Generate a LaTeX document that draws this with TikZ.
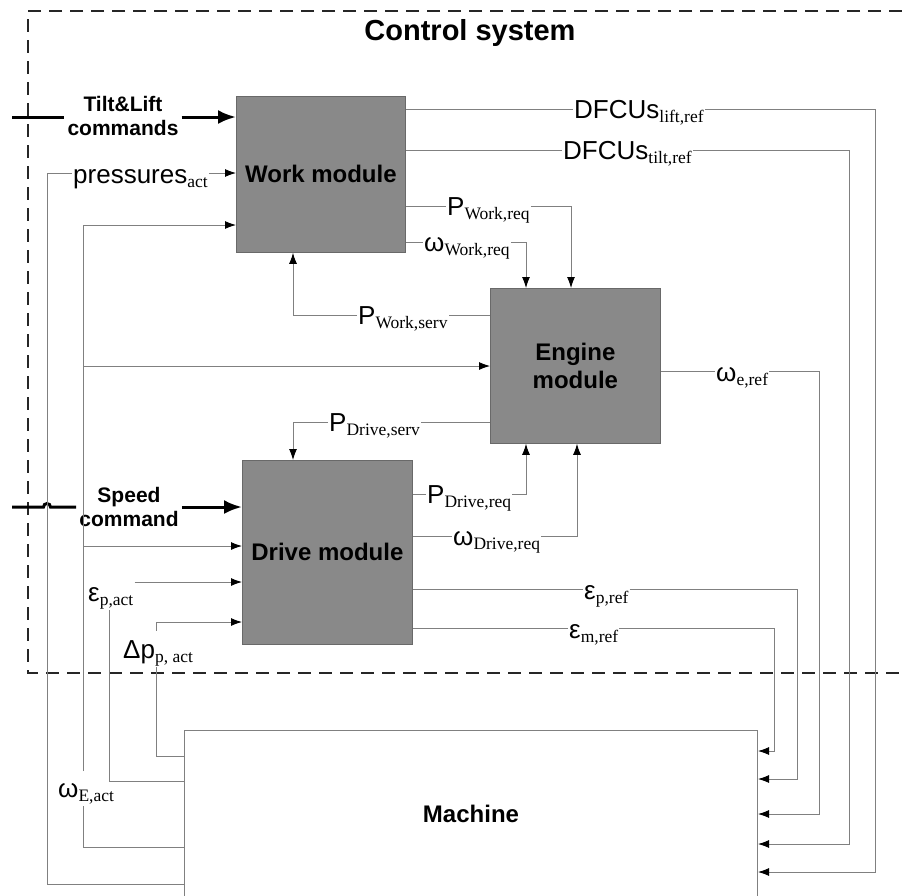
\documentclass[tikz,border=0pt]{standalone}
\usepackage{fontspec}
\setmainfont{Liberation Sans}
\newfontfamily\subfont{Liberation Serif}
\usetikzlibrary{arrows.meta,calc}
\definecolor{wirec}{RGB}{128,128,128}
\definecolor{modfill}{RGB}{137,137,137}
\definecolor{modedge}{RGB}{105,105,105}
\newcommand{\mysig}[2]{{\fontsize{26}{26}\selectfont #1}\raisebox{-4pt}{\fontsize{17.5}{17.5}\subfont #2}}
\begin{document}
\begin{tikzpicture}[x=1pt,y=-1pt,
  wire/.style={draw=wirec, line width=0.9pt},
  arr/.style={wire, -{Latex[length=11pt,width=8pt,color=black]}},
  cmd/.style={draw=black, line width=3pt},
  cmdarr/.style={cmd, -{Latex[length=18pt,width=14pt]}},
  module/.style={draw=modedge, fill=modfill, line width=0.8pt, anchor=north west,
    font=\fontsize{24}{28}\selectfont\bfseries, align=center, inner sep=0pt},
  machinebox/.style={draw=wirec, line width=1pt, anchor=north west,
    font=\fontsize{24}{28}\selectfont\bfseries, inner sep=0pt},
  sigl/.style={anchor=base west, inner sep=1pt},
  boldtxt/.style={font=\fontsize{21}{24.5}\selectfont\bfseries, align=center, inner xsep=3pt, inner ysep=0pt},
  frame/.style={draw=black!85, line width=1.6pt, dash pattern=on 13pt off 8pt},
]
\clip (0,0) rectangle (902,895);

% control system frame
\draw[frame] (902,11) -- (28,11) -- (28,673) -- (902,673);
\node[font=\fontsize{29}{30}\selectfont\bfseries] (title) at (470,33) {Control system};

% modules
\node[module, minimum width=169pt, minimum height=156pt] (work) at (236,96) {Work module};
\node[module, minimum width=170pt, minimum height=155pt] (engine) at (490,288) {Engine\\module};
\node[module, minimum width=170pt, minimum height=184pt] (drive) at (242,460) {Drive module};
\node[machinebox, minimum width=573pt, minimum height=166pt] (machine) at (184,730) {Machine};

% signal labels
\node[sigl] (dl)  at (573,118) {\mysig{DFCUs}{lift,ref}};
\node[sigl] (dt)  at (562,159) {\mysig{DFCUs}{tilt,ref}};
\node[sigl] (pwr) at (446,215) {\mysig{P}{Work,req}};
\node[sigl] (wwr) at (423,251) {\mysig{ω}{Work,req}};
\node[sigl] (pws) at (357,324) {\mysig{P}{Work,serv}};
\node[sigl] (wer) at (715,381) {\mysig{ω}{e,ref}};
\node[sigl] (pds) at (328,431) {\mysig{P}{Drive,serv}};
\node[sigl] (pdr) at (426,503) {\mysig{P}{Drive,req}};
\node[sigl] (wdr) at (452,545) {\mysig{ω}{Drive,req}};
\node[sigl] (epr) at (583,599) {\mysig{ε}{p,ref}};
\node[sigl] (emr) at (568,638) {\mysig{ε}{m,ref}};
\node[sigl] (pra) at (72,183) {\mysig{pressures}{act}};
\node[sigl, text height=20pt, text depth=3pt, outer ysep=5pt] (wEa) at (57,797) {\mysig{ω}{E,act}};
\node[sigl] (epa) at (87,601) {\mysig{ε}{p,act}};
\node[sigl, text height=26pt] (dpa) at (122,658) {\mysig{Δp}{p, act}};

% command inputs
\node[boldtxt] (tl) at (123,116) {Tilt\&Lift\\commands};
\node[boldtxt] (sc) at (129,507) {Speed\\command};
\coordinate (tlin) at (12,117);
\coordinate (scin) at (12,507);
\draw[cmd] (tlin) -- (tl.west |- 0,117);
\draw[cmdarr] (tl.east |- 0,117) -- (work.west |- 0,117);
\draw[cmd] (scin) -- (43.5,507) arc[start angle=180, end angle=360, radius=3.5] -- (sc.west |- 0,507);
\draw[cmdarr] (sc.east |- 0,507) -- (drive.west |- 0,507);

% work module outputs
\draw[wire] (work.east |- 0,109) -- (dl.west |- 0,109);
\draw[arr] (dl.east |- 0,109) -| (875,872) -- (machine.east |- 0,872);
\draw[wire] (work.east |- 0,150) -- (dt.west |- 0,150);
\draw[arr] (dt.east |- 0,150) -| (849,844) -- (machine.east |- 0,844);
\draw[wire] (work.east |- 0,206) -- (pwr.west |- 0,206);
\draw[arr] (pwr.east |- 0,206) -| (engine.north -| 571,0);
\draw[wire] (work.east |- 0,242) -- (wwr.west |- 0,242);
\draw[arr] (wwr.east |- 0,242) -| (engine.north -| 526,0);

% engine module
\draw[wire] (engine.west |- 0,315) -- (pws.east |- 0,315);
\draw[arr] (pws.west |- 0,315) -| (work.south -| 293,0);
\draw[wire] (engine.east |- 0,371) -- (wer.west |- 0,371);
\draw[arr] (wer.east |- 0,371) -| (819,814) -- (machine.east |- 0,814);
\draw[wire] (engine.west |- 0,422) -- (pds.east |- 0,422);
\draw[arr] (pds.west |- 0,422) -| (drive.north -| 293,0);

% drive module outputs
\draw[wire] (drive.east |- 0,494) -- (pdr.west |- 0,494);
\draw[arr] (pdr.east |- 0,494) -| (engine.south -| 526,0);
\draw[wire] (drive.east |- 0,536) -- (wdr.west |- 0,536);
\draw[arr] (wdr.east |- 0,536) -| (engine.south -| 577,0);
\draw[wire] (drive.east |- 0,589) -- (epr.west |- 0,589);
\draw[arr] (epr.east |- 0,589) -| (797,779) -- (machine.east |- 0,779);
\draw[wire] (drive.east |- 0,628) -- (emr.west |- 0,628);
\draw[arr] (emr.east |- 0,628) -| (774,751) -- (machine.east |- 0,751);

% machine feedback
\draw[wire] (machine.west |- 0,884) -| (47,173) -- (pra.west |- 0,173);
\draw[arr] (pra.east |- 0,173) -- (work.west |- 0,173);
\draw[wire] (machine.west |- 0,847) -| (83,0 |- wEa.south);
\draw[arr] (83,0 |- wEa.north) |- (work.west |- 0,225);
\draw[arr] (83,366) -- (engine.west |- 0,366);
\draw[arr] (83,546) -- (drive.west |- 0,546);
\draw[wire] (machine.west |- 0,781) -| (109,0 |- epa.south);
\draw[arr] (epa.east |- 0,582) -- (drive.west |- 0,582);
\draw[wire] (machine.west |- 0,756) -| (156,0 |- dpa.south);
\draw[arr] (156,0 |- dpa.north) |- (drive.west |- 0,622);
\end{tikzpicture}
\end{document}
